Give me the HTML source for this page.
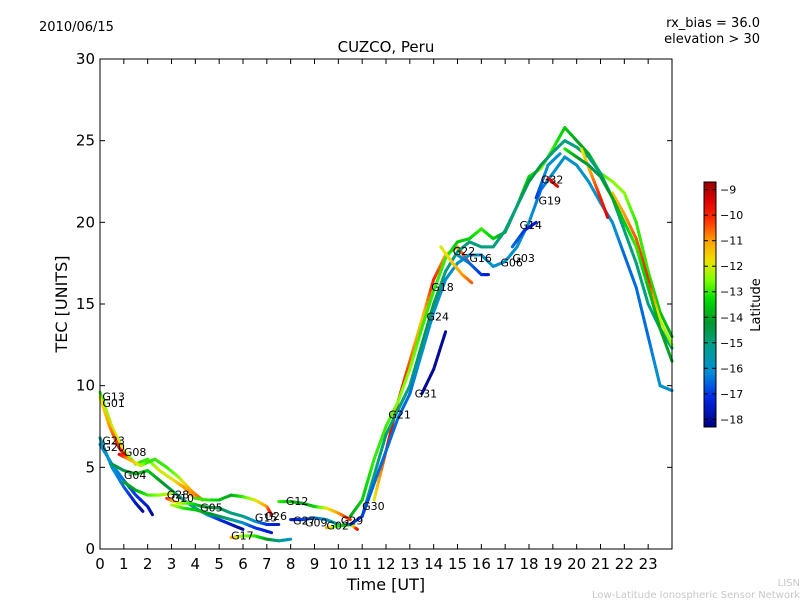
<!DOCTYPE html>
<html><head><meta charset="utf-8"><style>
body{margin:0;background:#fff;}
svg{display:block;font-family:"DejaVu Sans","Liberation Sans",sans-serif;}
</style></head><body>
<svg id="c" width="800" height="600" viewBox="0 0 800 600">
<text x="39" y="31" font-size="13">2010/06/15</text>
<text x="760" y="27" font-size="13" text-anchor="end">rx_bias = 36.0</text>
<text x="760" y="43" font-size="13" text-anchor="end">elevation &gt; 30</text>
<text x="386" y="52" font-size="15" text-anchor="middle">CUZCO, Peru</text>
<text x="386" y="590" font-size="16" text-anchor="middle">Time [UT]</text>
<text transform="translate(67,304) rotate(-90)" font-size="16" text-anchor="middle">TEC [UNITS]</text>
<text x="800" y="586" font-size="10" fill="#c8c8c8" text-anchor="end">LISN</text>
<text x="800" y="598" font-size="10" fill="#c8c8c8" text-anchor="end">Low-Latitude Ionospheric Sensor Network</text>
<g id="marks"></g>
<g id="axes"></g>
<text transform="translate(760,305) rotate(-90)" font-size="13" text-anchor="middle">Latitude</text>
</svg>
<script>
const xTicks=[0,1,2,3,4,5,6,7,8,9,10,11,12,13,14,15,16,17,18,19,20,21,22,23];
const yTicks=[0,5,10,15,20,25,30];
const cbTicks=[-9,-10,-11,-12,-13,-14,-15,-16,-17,-18];
const trackNames=["G13","G01","G23","G20","G08","G04","G04b","G28","G05","G17","Gmid","G12","G27","G02","R1","R2","R3","R4","G31","G22","G16","G14","G19","G32","E1","E2","E3"];
const trackHours=[
[0,0.5,1,1.5,2,2.5,3,3.5,4],
[0,0.4,0.8,1.1],
[0,0.5,1,1.5,1.8],
[0,0.5,1,1.5,2,2.2],
[0.8,1.2,1.7,2,2.3,2.8,3.3,3.8,4.3],
[0.5,1,1.5,2,2.5,3,3.5,4,4.5,5,5.5,6],
[1,1.5,2,2.5,3],
[2.8,3.3,3.8,4.3,5,5.5,6,6.5,7,7.5],
[3,3.5,4,4.5,5,5.5,6,6.5,7.2],
[5.5,6,6.5,7,7.5,8],
[4,4.5,5,5.5,6,6.5,7,7.2],
[7.5,8,8.5,9,9.5,10,10.5],
[8,8.5,9,9.5,10],
[9.5,10,10.5,10.8],
[11.5,12,12.5,13,13.5,14,14.5,15,15.5],
[10.5,11,11.5,12,12.5,13,13.5,14,14.5,15,15.5,16,16.5,17,17.5,18,18.5,19,19.5,20,20.5,21,21.5,22,22.5,23,23.5,24],
[11,11.5,12,12.5,13,13.5,14,14.5,15,15.5,16,16.5,17,17.5,18,18.5,19,19.5,20,20.5,21,21.5,22,22.5,23,23.5,24],
[10.5,11,11.5,12,12.5,13,13.5,14,14.5,15,15.5,16,16.5,17,17.5,18,18.5,19,19.5,20,20.5,21,21.5,22,22.5,23,23.5,24],
[13.5,14,14.5],
[14.3,14.8,15.2,15.6],
[15,15.5,16,16.3],
[17.3,17.8,18.3],
[18.3,18.8,19.3],
[18.8,19.2],
[20.2,20.6,21,21.3],
[21.5,22,22.5,23,23.5,24],
[19.5,20,20.5,21,21.5,22,22.5,23,23.5,24]
];
const trackTec=[
[9.6,7.5,6,5.2,5.5,4.8,4.3,3.8,3.1],
[9.3,7.5,6.2,5.6],
[6.8,5,3.8,2.8,2.3],
[6.4,5.2,4.2,3.3,2.6,2.1],
[5.8,5.5,5.1,5.3,5.5,5,4.4,3.6,3.0],
[5.2,4.8,4.6,4.8,4.2,3.6,3.0,2.5,2.1,1.8,1.5,1.2],
[4.1,3.6,3.3,3.3,3.4],
[3.1,2.8,2.8,2.6,2.5,2.2,2.0,1.7,1.5,1.5],
[2.7,2.5,2.4,2.2,2.0,1.8,1.6,1.3,1.0],
[0.7,0.8,0.8,0.6,0.5,0.6],
[3.1,3.0,3.0,3.3,3.2,3.0,2.6,2.1],
[2.9,2.9,2.8,2.6,2.5,2.2,1.8],
[1.8,1.8,1.9,1.8,1.5],
[1.3,1.4,1.5,1.2],
[3,6,9,11.5,14,16.5,18,18.5,17.5],
[2,3,5.5,7.5,9,11,13.5,15.8,17.8,18.8,19,19.6,19,19.4,21,22.8,23.3,24.5,25.8,25,24.2,23,22.5,21.8,20,17,14.5,13],
[2,4.5,7,8.5,10,12.5,15,17,18.2,18.8,18.5,18.5,19.5,21,22.5,23.5,24.3,25,24.6,24,23,21.5,19.5,17.5,15,13.5,12.3],
[1.5,2,4,6,8,9.5,12,14.5,16.5,17.5,18,18,17.3,17.6,18.5,20,22,23,24,23.5,22.5,21.2,20,18,16,13,10,9.7],
[9.5,11,13.3],
[18.5,17.5,16.8,16.3],
[18,17.5,16.8,16.8],
[18.5,19.5,20],
[21.5,23.5,24.2],
[22.7,22.2],
[24.5,23,21.5,20.3],
[21.8,20.5,19,16.5,14,12.5],
[24.5,24,23.5,22.8,21.5,20,18.5,16,13.5,11.5]
];
const trackLat=[
[-13,-12,-12,-13,-13,-12,-12,-11,-11],
[-12,-11,-10,-9.5],
[-15.5,-16,-16.5,-17.5,-18],
[-16,-16,-16.5,-17,-17.5,-18],
[-9.5,-11,-12,-13,-13,-13,-12.5,-11,-10.5],
[-14.5,-14.5,-14,-13.5,-14,-14.5,-15,-15.5,-16,-17,-17.5,-18],
[-14,-14,-13,-12.5,-12],
[-10,-12,-13,-14,-14.5,-15,-15,-16,-17,-17.5],
[-12,-13,-13.5,-14,-14.5,-15,-16,-17,-17.5],
[-11,-12.5,-13,-14,-15,-16],
[-13,-13,-13.5,-14,-13,-12,-11,-9.5],
[-13,-13.5,-14,-13.5,-12,-11,-10],
[-17.5,-17,-16.5,-16,-15],
[-11,-13,-14,-9.5],
[-12,-10,-9.5,-10.5,-11.5,-10,-11,-11,-10],
[-14,-13.5,-13,-13,-12.5,-12.5,-13,-13,-13,-13.5,-13.5,-13,-13.5,-14,-14,-13.5,-12.5,-13,-13.5,-14,-14,-13,-12.5,-12.5,-13,-13,-13.5,-14],
[-15,-15,-15,-15,-15,-14.5,-14.5,-15,-15,-15,-15,-15,-15,-15,-14.5,-14.5,-15,-15,-15,-15,-15,-15,-15,-15,-15,-15,-15],
[-17,-17,-16.5,-16.5,-16.5,-16.5,-16,-16,-16,-16,-16,-16,-16,-16,-16,-16,-16.5,-16,-16,-16,-16,-16,-16,-16.5,-16.5,-16.5,-16,-16],
[-18,-18,-18],
[-12,-11.5,-11,-10.5],
[-16,-16.5,-17,-17.5],
[-16.5,-17,-17.5],
[-17,-16,-16],
[-9.5,-9.5],
[-12,-11,-10,-9.5],
[-11.5,-11,-10.5,-10,-12,-12.5],
[-13,-14,-14.5,-14.5,-14,-13.5,-13,-13.5,-14,-14]
];
const labelNames=["G13","G01","G23","G20","G08","G04","G28","G10","G05","G17","G15","G26","G12","G27","G09","G02","G29","G30","G21","G31","G24","G18","G22","G16","G06","G03","G14","G19","G32"];
const labelHours=[0.1,0.1,0.1,0.1,1.0,1.0,2.8,3.0,4.2,5.5,6.5,6.9,7.8,8.1,8.6,9.5,10.1,11.0,12.1,13.2,13.7,13.9,14.8,15.5,16.8,17.3,17.6,18.4,18.5];
const labelTec=[9.3,8.9,6.6,6.2,5.9,4.5,3.3,3.1,2.5,0.8,1.9,2.0,2.9,1.7,1.6,1.4,1.7,2.6,8.2,9.5,14.2,16.0,18.2,17.8,17.5,17.8,19.8,21.3,22.6];
const X0=100,X1=672,Y0=549,Y1=59,cbTop=182,cbBot=427,cbVmax=-8.7,cbVmin=-18.3;
const xs=h=>X0+h/24*(X1-X0);
const ys=v=>Y0-v/30*(Y0-Y1);
const cbY=v=>cbTop+(cbVmax-v)/(cbVmax-cbVmin)*(cbBot-cbTop);
// colormap stops (fraction from bottom, rgb)
const cmap=[[0,[0,0,128]],[0.12,[0,40,230]],[0.22,[0,140,215]],[0.33,[0,160,140]],[0.43,[0,150,40]],[0.52,[0,220,0]],[0.6,[128,255,0]],[0.68,[240,225,0]],[0.76,[255,160,0]],[0.84,[255,50,0]],[0.92,[225,0,0]],[1,[150,0,0]]];
function cm(t){t=Math.max(0,Math.min(1,t));
 for(let i=0;i<cmap.length-1;i++){const a=cmap[i],b=cmap[i+1];
  if(t<=b[0]){const f=(t-a[0])/(b[0]-a[0]);const c=a[1].map((v,k)=>Math.round(v+(b[1][k]-v)*f));return `rgb(${c[0]},${c[1]},${c[2]})`;}}
 return 'rgb(150,0,0)';}
const latCol=l=>cm((l-cbVmin)/(cbVmax-cbVmin));
const NS="http://www.w3.org/2000/svg";
function mk(tag,attrs,parent){const e=document.createElementNS(NS,tag);for(const k in attrs)e.setAttribute(k,attrs[k]);parent.appendChild(e);return e;}
const marks=document.getElementById('marks'),axes=document.getElementById('axes');
trackHours.forEach((hs,i)=>{
 const g=mk('g',{},marks);
 
 
 for(let j=0;j<hs.length-1;j++){
  const n=8;
  for(let k=0;k<n;k++){
   const a=k/n,b=(k+1)/n;
   const h1=hs[j]+(hs[j+1]-hs[j])*a,h2=hs[j]+(hs[j+1]-hs[j])*b;
   const t1=trackTec[i][j]+(trackTec[i][j+1]-trackTec[i][j])*a,t2=trackTec[i][j]+(trackTec[i][j+1]-trackTec[i][j])*b;
   const l=trackLat[i][j]+(trackLat[i][j+1]-trackLat[i][j])*(a+b)/2;
   const s=mk('line',{x1:xs(h1),y1:ys(t1),x2:xs(h2),y2:ys(t2),stroke:latCol(l),'stroke-width':3,'stroke-linecap':'round'},g);
   
   
  }
 }
});
labelNames.forEach((n,i)=>{
 const t=mk('text',{x:xs(labelHours[i]),y:ys(labelTec[i]),'font-size':11,'dominant-baseline':'central'},marks);
 t.textContent=n;
 
 
});
const frame=mk('rect',{x:X0,y:Y1,width:X1-X0,height:Y0-Y1,fill:'none',stroke:'#000','stroke-width':1},axes);


xTicks.forEach(v=>{
 const x=xs(v);
 mk('line',{x1:x,y1:Y0,x2:x,y2:Y0-5,stroke:'#000'},axes);
 mk('line',{x1:x,y1:Y1,x2:x,y2:Y1+5,stroke:'#000'},axes);
 const t=mk('text',{x:x,y:Y0+20,'font-size':15,'text-anchor':'middle'},axes);
 t.textContent=v;
 
 
});
yTicks.forEach(v=>{
 const y=ys(v);
 mk('line',{x1:X0,y1:y,x2:X0+5,y2:y,stroke:'#000'},axes);
 mk('line',{x1:X1,y1:y,x2:X1-5,y2:y,stroke:'#000'},axes);
 const t=mk('text',{x:X0-5,y:y+5,'font-size':15,'text-anchor':'end'},axes);
 t.textContent=v;
 
 
});
const defs=mk('defs',{},axes);
const gr=mk('linearGradient',{id:'cbg',x1:0,y1:0,x2:0,y2:1},defs);
for(let i=0;i<=40;i++){mk('stop',{offset:i/40,'stop-color':cm(1-i/40)},gr);}
const cb=mk('rect',{x:704,y:cbTop,width:12,height:cbBot-cbTop,fill:'url(#cbg)',stroke:'#000','stroke-width':1},axes);


cbTicks.forEach(v=>{
 const y=cbY(v);
 mk('line',{x1:704,y1:y,x2:708,y2:y,stroke:'#000'},axes);
 mk('line',{x1:716,y1:y,x2:712,y2:y,stroke:'#000'},axes);
 const t=mk('text',{x:720,y:y+4,'font-size':11},axes);
 t.textContent='\u2212'+Math.abs(v);
 
 
});
</script>
</body></html>
